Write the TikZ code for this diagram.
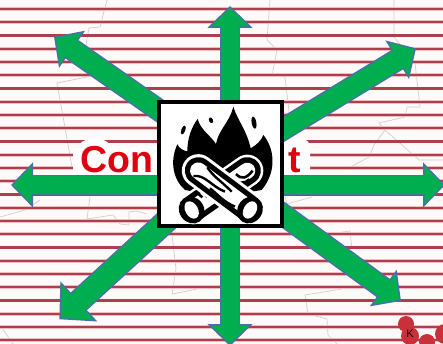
\documentclass[tikz,border=0pt]{standalone}
\usepackage{fontspec}
\setmainfont{Liberation Sans}
\usetikzlibrary{
arrows.meta,
backgrounds
}
\definecolor{arrowgreen}{HTML}{00AE50}
\definecolor{arrowblue}{HTML}{4A70A8}
\definecolor{stripered}{HTML}{AD3F4C}
\definecolor{stripepink}{HTML}{F2BDC2}
\definecolor{labelred}{HTML}{E0000F}
\definecolor{mapgrey}{HTML}{CFCFCF}
\definecolor{blobred}{HTML}{C8303A}

\begin{document}
\begin{tikzpicture}[
x=1pt,y=-1pt,
bigarrow/.style n args={6}{
preaction={draw=arrowblue,line width=#1,shorten >=0pt,shorten <=-14pt,-{Triangle[length=#3,width=#4]}},
draw=arrowgreen,
line width=#2,
shorten >=2.1pt,
shorten <=-14pt,
-{Triangle[length=#5,width=#6]}
},
normalarrow/.style={bigarrow={20.5pt}{17.5pt}{22pt}{44pt}{18.4pt}{36.8pt}},
diagarrow/.style={bigarrow={22.5pt}{19.5pt}{22pt}{44pt}{18.4pt}{36.8pt}},
widearrow/.style={bigarrow={24pt}{21pt}{26.5pt}{53pt}{22.9pt}{45.8pt}},
firebox/.style={
rectangle,
draw=black,
fill=white,
line width=4pt,
minimum width=123pt,
minimum height=124pt
},
conlabel/.style={
text=labelred,
inner sep=0pt,
font=\fontsize{37.5}{37.5}\selectfont\bfseries
},
mapline/.style={draw=mapgrey,line width=0.7pt},
loglayer/.style={line cap=round,line width=#1}
]
\clip (0,0) rectangle (443,344);

\node[firebox] (fire) at (220.5,164) {};

% campfire icon, in 3x crop coordinates
\begin{scope}[shift={(130,80)},x=0.3333pt,y=-0.3333pt]
\fill[black] (165,330) .. controls (130,300) and (118,245) .. (142,193)
 .. controls (148,205) and (160,212) .. (172,214)
 .. controls (172,175) and (185,140) .. (203,117)
 .. controls (212,150) and (240,165) .. (258,192)
 .. controls (265,150) and (300,125) .. (310,80)
 .. controls (322,120) and (350,150) .. (362,205)
 .. controls (380,195) and (395,180) .. (400,165)
 .. controls (430,200) and (445,270) .. (395,330) -- (280,350) -- cycle;
\fill[black] (160,150) ellipse[x radius=6,y radius=14,rotate=-20];
\fill[black] (243,121) ellipse[x radius=6,y radius=9,rotate=25];
\fill[black] (372,128) ellipse[x radius=7,y radius=19,rotate=10];
% back log
\draw[loglayer=32pt,white] (352,272) -- (190,385);
\draw[loglayer=27pt,black] (352,272) -- (190,385);
\draw[loglayer=16pt,white] (352,272) -- (190,385);
\draw[black,line width=2.6pt] (318,282) .. controls (335,300) and (350,295) .. (368,272);
\draw[black,line width=2.6pt] (300,298) .. controls (325,312) and (345,312) .. (358,298);
\draw[black,line width=2.6pt] (203,340) -- (217,352);
\draw[black,line width=2.6pt] (220,334) -- (232,352);
\fill[black] (185,390) ellipse[x radius=37,y radius=42,rotate=35];
\fill[white] (185,390) ellipse[x radius=19,y radius=28,rotate=30];
% front log
\draw[loglayer=33pt,white] (205,272) -- (352,382);
\draw[loglayer=27pt,black] (205,272) -- (352,382);
\draw[loglayer=16.5pt,white] (205,272) -- (352,382);
\draw[black,line width=2.4pt] (190,288) .. controls (225,283) and (245,320) .. (285,335);
\draw[black,line width=2.4pt] (232,262) .. controls (250,290) and (270,300) .. (305,335);
\draw[black,line width=2.4pt] (240,325) .. controls (265,345) and (280,365) .. (315,380);
\fill[black] (360,390) ellipse[x radius=37,y radius=42,rotate=-35];
\fill[white] (360,390) ellipse[x radius=19,y radius=28,rotate=-30];
\end{scope}

\begin{scope}[on background layer]
\fill[white!98!red] (0,0) rectangle (443,344);
% county outlines
\draw[mapline] (107,0) -- (100,27) -- (89,28) -- (86,45) -- (87,77) -- (57,83) -- (72,167);
\draw[mapline] (270,0) -- (267,40) -- (277,50) -- (272,76) -- (285,77) -- (290,120);
\draw[mapline] (394,0) -- (394,37) -- (415,63) -- (420,107) -- (407,107) -- (405,117) -- (379,123) -- (385,130) -- (374,145) -- (369,157) -- (345,170);
\draw[mapline] (385,130) -- (419,160) -- (443,160);
\draw[mapline] (40,200) -- (25,210) -- (0,217);
\draw[mapline] (90,197) -- (87,219) -- (113,215) -- (120,224) -- (129,225) -- (129,212) -- (137,211) -- (147,214);
\draw[mapline] (172,235) -- (176,269) -- (172,294) -- (197,289);
\draw[mapline] (0,325) -- (13,344);
\draw[mapline] (285,197) -- (287,204) -- (312,197);
\draw[mapline] (335,233) -- (350,231) -- (352,249);
\draw[mapline] (342,289) -- (305,295) -- (308,314) -- (327,319) -- (328,335) -- (337,344);

\foreach \i in {0,...,25} {
\draw[stripepink,line width=3.8pt] (0,9+13.25*\i) -- (443,9+13.25*\i);
\draw[stripered,line width=2.2pt] (0,9+13.25*\i) -- (443,9+13.25*\i);
}

% corner of the county at lower right
\fill[blobred] (406,324) circle (8) (410,336) circle (9) (427,342) circle (8) (445,334) circle (10);
\node[text=black,inner sep=0pt,font=\fontsize{11}{11}\selectfont] (kmark) at (410,334) {K};

% white halo behind the label
\fill[white] (94.5,144) ellipse[x radius=14,y radius=5];
\fill[white,rounded corners=8pt] (73,147) rectangle (165,178);
\fill[white,rounded corners=8pt] (275,139) rectangle (310,178);
\node[conlabel,anchor=base west] (con) at (80.5,172.7) {Con};
\node[conlabel,anchor=base west] (conend) at (288.5,172.7) {t};

\coordinate (tipN) at (230,6);
\coordinate (tipS) at (230,346);
\coordinate (tipW) at (11,185);
\coordinate (tipE) at (445,185);
\coordinate (tipNW) at (54,36.7);
\coordinate (tipNE) at (416,48.3);
\coordinate (tipSE) at (401,301);
\coordinate (tipSW) at (59.3,319.3);

\draw[normalarrow] (fire.north -| tipN) -- (tipN);
\draw[normalarrow] (fire.south -| tipS) -- (tipS);
\draw[normalarrow] (fire.west |- tipW) -- (tipW);
\draw[normalarrow] (fire.east |- tipE) -- (tipE);
\draw[diagarrow] (fire.139.6) -- (tipNW);
\draw[diagarrow] (fire.29) -- (tipNE);
\draw[diagarrow] (fire.321.1) -- (tipSE);
\draw[widearrow] (fire.226.6) -- (tipSW);
\end{scope}

\end{tikzpicture}
\end{document}
